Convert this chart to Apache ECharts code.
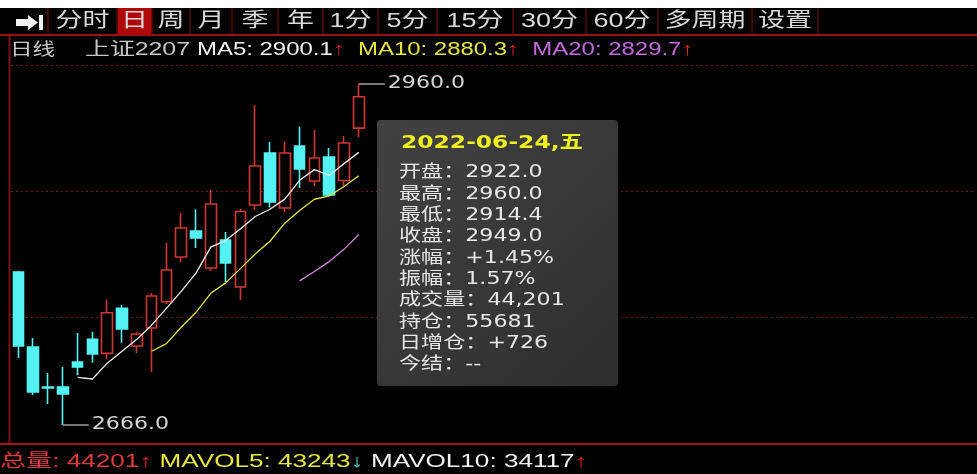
<!DOCTYPE html>
<html><head><meta charset="utf-8">
<script src="https://cdn.jsdelivr.net/npm/echarts@6/dist/echarts.min.js"></script>
<style>html,body{margin:0;padding:0;background:#000;}#main{width:977px;height:474px;}</style>
</head><body><div id="main"></div>
<script>
// ---------- data ----------
const dates = ['2022-05-23','2022-05-24','2022-05-25','2022-05-26','2022-05-27','2022-05-30','2022-05-31',
  '2022-06-01','2022-06-02','2022-06-06','2022-06-07','2022-06-08','2022-06-09','2022-06-10',
  '2022-06-13','2022-06-14','2022-06-15','2022-06-16','2022-06-17',
  '2022-06-20','2022-06-21','2022-06-22','2022-06-23','2022-06-24'];
const openP  = [2797.9,2733.3,2698.8,2698.8,2720.3,2739.9,2727.8,2766.6,2734.1,2749.7,2772.3,2810.9,2833.3,2801.4,2825.5,2785.0,2855.7,2900.5,2853.1,2906.6,2876.4,2897.1,2876.8,2922.0];
const closeP = [2734.1,2694.5,2698.0,2692.8,2716.0,2727.2,2762.8,2748.8,2744.5,2777.2,2799.7,2835.9,2827.2,2856.6,2805.7,2850.1,2889.3,2858.3,2900.5,2886.7,2896.2,2864.3,2909.1,2949.0];
const lowP   = [2723.8,2691.9,2684.1,2666.0,2709.0,2719.7,2722.7,2737.0,2728.1,2711.7,2770.3,2806.6,2818.6,2798.8,2789.3,2773.8,2851.4,2853.5,2849.7,2870.3,2872.1,2863.4,2871.6,2914.4];
const highP  = [2798.8,2741.0,2710.9,2716.0,2745.3,2746.5,2774.4,2769.5,2746.2,2779.8,2823.2,2848.8,2851.8,2868.6,2832.4,2852.2,2941.9,2910.0,2910.4,2923.4,2920.3,2904.8,2915.2,2960.0];
const emptySlots = 41;

const toolbarItems = ['分时','日','周','月','季','年','1分','5分','15分','30分','60分','多周期','设置'];
const selectedItem = '日';

const headerName = '日线';
const headerCode = '上证2207';
const ma5Text = 'MA5: 2900.1';
const ma10Text = 'MA10: 2880.3';
const ma20Text = 'MA20: 2829.7';

const volTotalText = '总量: 44201';
const mavol5Text = 'MAVOL5: 43243';
const mavol10Text = 'MAVOL10: 34117';

const tipTitle = '2022-06-24,五';
const tipLabels = ['开盘','最高','最低','收盘','涨幅','振幅','成交量','持仓','日增仓','今结'];
const tipValues = ['2922.0','2960.0','2914.4','2949.0','+1.45%','1.57%','44,201','55681','+726','--'];

const highLabel = '2960.0';
const lowLabel = '2666.0';

// ---------- derived ----------
const categories = dates.concat(Array.from({length: emptySlots}, (_, i) => '_' + i));
const candleData = dates.map((d, i) => [openP[i], closeP[i], lowP[i], highP[i]]);
function movingAvg(n) {
  return closeP.map((v, i) => {
    if (i < n - 1) return '-';
    let s = 0; for (let k = i - n + 1; k <= i; k++) s += closeP[k];
    return +(s / n).toFixed(2);
  });
}

// ---------- styling ----------
const RED = '#d03632', CYAN = '#54f2f2';
const CN = '"Noto Sans CJK SC"';
const SANS = '"Liberation Sans", ' + CN;
const DJ = '"DejaVu Sans", ' + CN;
const SX = 1.33;

const chart = echarts.init(document.getElementById('main'), null, {renderer: 'canvas'});
chart.setOption({
  backgroundColor: '#000',
  animation: false,
  grid: {left: 11, right: 4, top: 65, bottom: 30},
  xAxis: {type: 'category', data: categories, boundaryGap: true,
    axisLine: {show: false}, axisTick: {show: false}, axisLabel: {show: false}, splitLine: {show: false}},
  yAxis: [
    {type: 'value', min: 2649.655, max: 2976.379, show: false, splitLine: {show: false}},
    {type: 'value', min: 0, max: 3, interval: 1, position: 'right',
     axisLine: {show: false}, axisTick: {show: false}, axisLabel: {show: false},
     splitLine: {show: true, lineStyle: {color: '#701616', type: [2, 3], width: 1}}}
  ],
  series: [
    {type: 'candlestick', data: candleData, barWidth: 11,
     itemStyle: {color: '#000', color0: CYAN, borderColor: RED, borderColor0: CYAN, borderWidth: 1.6}},
    {type: 'line', data: movingAvg(5), symbol: 'none', lineStyle: {color: '#eeeeee', width: 1.3}},
    {type: 'line', data: movingAvg(10), symbol: 'none', lineStyle: {color: '#e4e43c', width: 1.3}},
    {type: 'line', data: movingAvg(20), symbol: 'none', lineStyle: {color: '#d08ad6', width: 1.3}},
    {type: 'line', data: [], yAxisIndex: 1}
  ]
});

// ---------- decorations ----------
function txt(x, y, text, fill, font, align, sx) {
  return {type: 'text', x: x, y: y, scaleX: sx || SX, z: 100, silent: true,
    style: {text: text, fill: fill, font: font, align: align || 'left', verticalAlign: 'middle'}};
}
function richTxt(x, y, text, rich, sx) {
  return {type: 'text', x: x, y: y, scaleX: sx || SX, z: 100, silent: true,
    style: {text: text, rich: rich, align: 'left', verticalAlign: 'middle', font: '18px ' + SANS}};
}
function line(x1, y1, x2, y2, color, w, dash) {
  return {type: 'line', z: 90, silent: true, shape: {x1: x1, y1: y1, x2: x2, y2: y2},
    style: {stroke: color, lineWidth: w || 1, lineDash: dash || null}};
}
function rect(x, y, w, h, fill, r) {
  return {type: 'rect', z: 80, silent: true, shape: {x: x, y: y, width: w, height: h, r: r || 0}, style: {fill: fill}};
}

const g = [];
// white strip at very top
g.push(rect(0, 0, 977, 8, '#ffffff'));
// toolbar
const cells = [[48,117],[117,152],[152,190],[190,232],[232,278],[278,323],[323,378],[378,437],[437,513],[513,586],[586,658],[658,752],[752,818]];
toolbarItems.forEach((t, i) => {
  const c = cells[i];
  if (t === selectedItem) g.push(rect(c[0] + 1, 8, c[1] - c[0] - 1, 26, '#b00808'));
  g.push(txt((c[0] + c[1]) / 2, 21.5, t, '#d8d8d8', '20px ' + SANS, 'center', 1.35));
});
[48].concat(cells.map(c => c[1])).forEach(x => g.push(line(x, 8, x, 34, '#5a0c0c', 1.5)));
// arrow icon
g.push({type: 'polygon', z: 100, silent: true, shape: {points: [[16,19],[28,19],[28,15],[38,22.5],[28,30],[28,26],[16,26]]}, style: {fill: '#f0f0f0'}});
g.push(rect(39, 15, 4, 15, '#f0f0f0'));
g[g.length - 1].z = 100;
// frame lines
g.push(line(0, 35, 977, 35, '#9a1010', 2));
g.push(line(9.5, 36, 9.5, 444, '#7a1010', 2));
g.push(line(0, 444, 977, 444, '#a81414', 2));

// header line
const HY = 50;
const RICH = {
  w: {fill: '#f2f2f2', font: '18px ' + SANS},
  y: {fill: '#e6e640', font: '18px ' + SANS},
  m: {fill: '#c46ae0', font: '18px ' + SANS},
  r: {fill: '#e02020', font: '18px ' + SANS},
  rv: {fill: '#e03a3a', font: '18px ' + SANS},
  c: {fill: '#3fd0d0', font: '18px ' + SANS}
};
g.push(txt(10, HY, headerName, '#c8c8c8', '17px ' + SANS));
g.push(txt(190, HY, headerCode, '#c8c8c8', '18px ' + SANS, 'right', 1.38));
g.push(richTxt(197, HY, '{w|' + ma5Text + '}{r|↑}  {y|' + ma10Text + '}{r|↑}  {m|' + ma20Text + '}{r|↑}', RICH));

// footer line
const FY = 462;
g.push(richTxt(0, FY, '{rv|' + volTotalText + '}{r|↑} {y|' + mavol5Text + '}{c|↓} {w|' + mavol10Text + '}{r|↑}', RICH, 1.45));

// high / low markers from data via axis conversion
const iHigh = highP.indexOf(Math.max(...highP));
const iLow = lowP.indexOf(Math.min(...lowP));
const pH = chart.convertToPixel({xAxisIndex: 0, yAxisIndex: 0}, [iHigh, highP[iHigh]]);
const pL = chart.convertToPixel({xAxisIndex: 0, yAxisIndex: 0}, [iLow, lowP[iLow]]);
g.push(line(pH[0], pH[1], pH[0] + 26, pH[1], '#c8c8c8', 1.2));
g.push(txt(pH[0] + 29, pH[1], highLabel, '#d4d4d4', '17px ' + DJ, 'left', 1.3));
g.push(line(pL[0], pL[1], pL[0] + 26, pL[1], '#c8c8c8', 1.2));
g.push(txt(pL[0] + 29, pL[1], lowLabel, '#d4d4d4', '17px ' + DJ, 'left', 1.3));

// info box
g.push({type: 'rect', z: 95, silent: true, shape: {x: 377, y: 120, width: 241, height: 266, r: 4},
  style: {fill: new echarts.graphic.LinearGradient(0, 0, 1, 1, [{offset: 0, color: '#424242'}, {offset: 1, color: '#2e2e2e'}])}});
g.push(txt(401, 143, tipTitle, '#f0f020', 'bold 18px ' + DJ, 'left', 1.3));
tipLabels.forEach((l, i) => {
  g.push(txt(399, 173 + i * 21.3, l + '：' + tipValues[i], '#e6e6e6', '17px ' + DJ, 'left', 1.3));
});

chart.setOption({graphic: g});
</script></body></html>
